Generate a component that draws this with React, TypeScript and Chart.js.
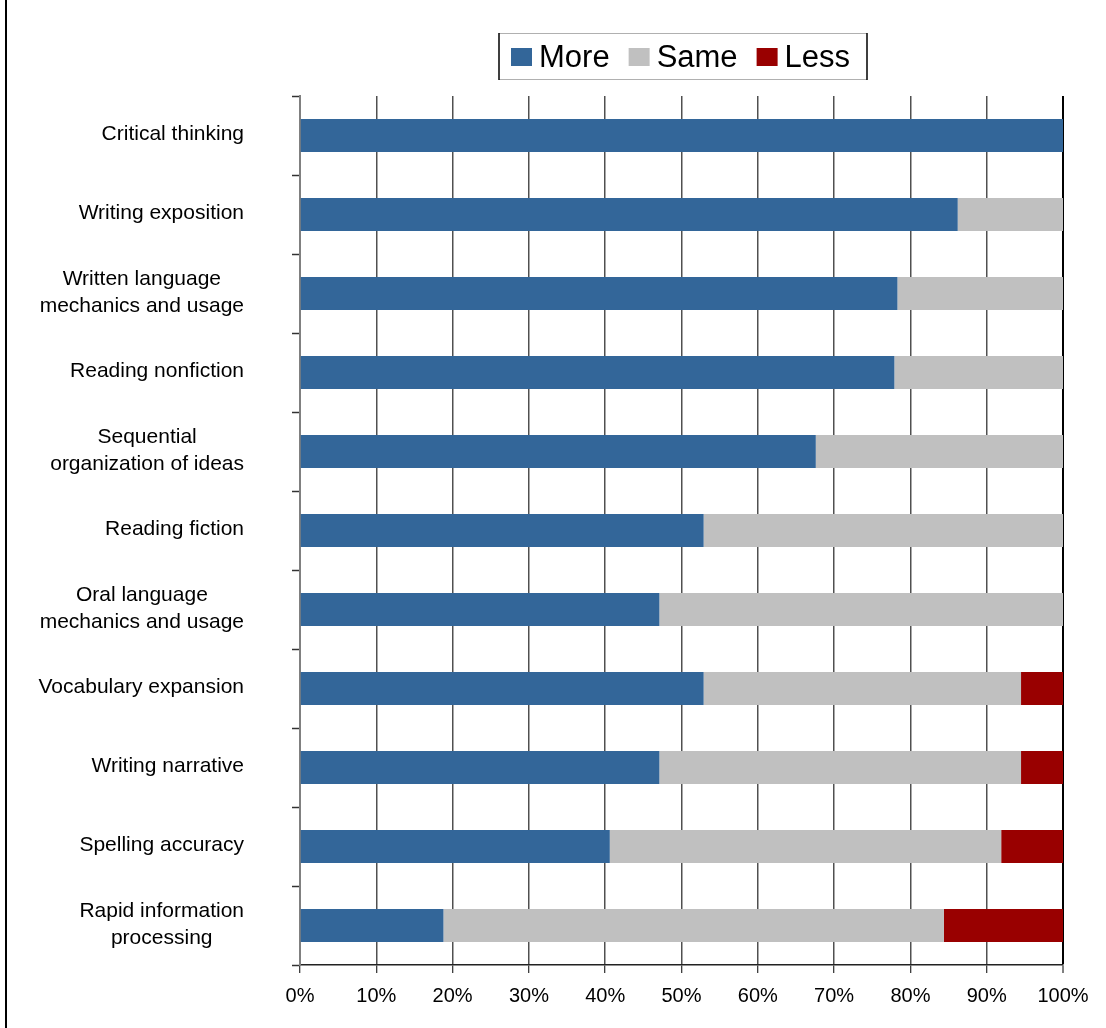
import React, { useEffect, useRef } from 'react';
import { Chart, registerables } from 'chart.js';
Chart.register(...registerables);

const categories: (string | string[])[] = [
  'Critical thinking',
  'Writing exposition',
  ['Written language', 'mechanics and usage'],
  'Reading nonfiction',
  ['Sequential', 'organization of ideas'],
  'Reading fiction',
  ['Oral language', 'mechanics and usage'],
  'Vocabulary expansion',
  'Writing narrative',
  'Spelling accuracy',
  ['Rapid information', 'processing'],
];
const seriesLabels = ['More', 'Same', 'Less'];
const moreValues = [100, 86.2, 78.3, 77.9, 67.6, 52.9, 47.1, 52.9, 47.1, 40.6, 18.8];
const sameValues = [0, 13.8, 21.7, 22.1, 32.4, 47.1, 52.9, 41.6, 47.4, 51.3, 65.6];
const lessValues = [0, 0, 0, 0, 0, 0, 0, 5.5, 5.5, 8.1, 15.6];
const seriesColors = ['#336699', '#C0C0C0', '#990000'];

const FONT = '"Liberation Sans", Arial, Helvetica, sans-serif';

const framePlugin = {
  id: 'frame',
  beforeDraw(chart: any) {
    const ctx = chart.ctx;
    ctx.save();
    ctx.fillStyle = '#fff';
    ctx.fillRect(0, 0, chart.width, chart.height);
    ctx.strokeStyle = '#000';
    ctx.lineWidth = 2;
    ctx.beginPath();
    ctx.moveTo(6, 0);
    ctx.lineTo(6, chart.height);
    ctx.stroke();
    ctx.restore();
  },
};

const yLabelsPlugin = {
  id: 'yLabels',
  afterDraw(chart: any) {
    const ctx = chart.ctx;
    const y = chart.scales.y;
    const labels = chart.data.labels as (string | string[])[];
    ctx.save();
    ctx.font = `21px ${FONT}`;
    ctx.fillStyle = '#000';
    ctx.textAlign = 'center';
    ctx.textBaseline = 'middle';
    const right = 244;
    const lh = 27;
    labels.forEach((lab, i) => {
      const lines = Array.isArray(lab) ? lab : [lab];
      const maxW = Math.max(...lines.map((l) => ctx.measureText(l).width));
      const cx = right - maxW / 2;
      const cy = y.getPixelForValue(i) - 1;
      lines.forEach((l, k) => {
        ctx.fillText(l, cx, cy + (k - (lines.length - 1) / 2) * lh);
      });
    });
    ctx.restore();
  },
};

const legendPlugin = {
  id: 'boxLegend',
  afterDraw(chart: any) {
    const ctx = chart.ctx;
    ctx.save();
    const x0 = 499, y0 = 33, x1 = 867, y1 = 79;
    ctx.lineWidth = 1;
    ctx.strokeStyle = '#b0b0b0';
    ctx.beginPath();
    ctx.moveTo(x0, y0 + 0.5); ctx.lineTo(x1, y0 + 0.5);
    ctx.moveTo(x0, y1 + 0.5); ctx.lineTo(x1, y1 + 0.5);
    ctx.stroke();
    ctx.strokeStyle = '#000';
    ctx.lineWidth = 1.5;
    ctx.beginPath();
    ctx.moveTo(x0, y0); ctx.lineTo(x0, y1 + 1);
    ctx.moveTo(x1, y0); ctx.lineTo(x1, y1 + 1);
    ctx.stroke();
    ctx.font = `31px ${FONT}`;
    ctx.textBaseline = 'middle';
    ctx.textAlign = 'left';
    let x = 511;
    const cy = 57;
    chart.data.datasets.forEach((ds: any) => {
      ctx.fillStyle = ds.backgroundColor;
      ctx.fillRect(x, cy - 9, 21, 18);
      ctx.fillStyle = '#000';
      ctx.fillText(ds.label, x + 28, cy + 1);
      x += 28 + ctx.measureText(ds.label).width + 19;
    });
    ctx.restore();
  },
};

export default function App() {
  const ref = useRef<HTMLCanvasElement>(null);
  useEffect(() => {
    const canvas = ref.current!;
    const values = [moreValues, sameValues, lessValues];
    const chart = new Chart(canvas, {
      type: 'bar',
      data: {
        labels: categories as any,
        datasets: seriesLabels.map((label, i) => ({
          label,
          data: values[i],
          backgroundColor: seriesColors[i],
          borderWidth: 0,
          barPercentage: 0.42,
          categoryPercentage: 1,
        })),
      },
      options: {
        indexAxis: 'y',
        animation: false,
        responsive: false,
        devicePixelRatio: 1,
        layout: { padding: { top: 96, right: 43, left: 0, bottom: 0 } },
        plugins: {
          legend: { display: false },
          tooltip: { enabled: false },
          title: { display: false },
        },
        scales: {
          x: {
            stacked: true,
            min: 0,
            max: 100,
            ticks: {
              stepSize: 10,
              callback: (v: any) => `${v}%`,
              color: '#000',
              font: { family: FONT, size: 20 },
              padding: 11,
              maxRotation: 0,
            },
            grid: {
              color: (c: any) => (c.tick && c.tick.value === 100 ? '#000' : '#505050'),
              lineWidth: (c: any) => (c.tick && c.tick.value === 100 ? 2 : 1.5),
              drawTicks: true,
              tickLength: 8,
              tickColor: '#000',
              tickWidth: 1,
            },
            border: { display: true, color: '#222', width: 1.5 },
            afterFit: (s: any) => { s.height = 63; },
          },
          y: {
            stacked: true,
            ticks: { display: false },
            grid: {
              drawOnChartArea: false,
              drawTicks: true,
              tickLength: 8,
              tickColor: '#333',
              tickWidth: 1.5,
              offset: true,
            },
            border: { display: true, color: '#808080', width: 2 },
            afterFit: (s: any) => { s.width = 300; },
          },
        },
      },
      plugins: [framePlugin, yLabelsPlugin, legendPlugin],
    });
    return () => chart.destroy();
  }, []);
  return (
    <div style={{ position: 'absolute', left: 0, top: 0, width: 1106, height: 1028, background: '#fff' }}>
      <canvas ref={ref} width={1106} height={1028} style={{ display: 'block', width: 1106, height: 1028 }} />
    </div>
  );
}
